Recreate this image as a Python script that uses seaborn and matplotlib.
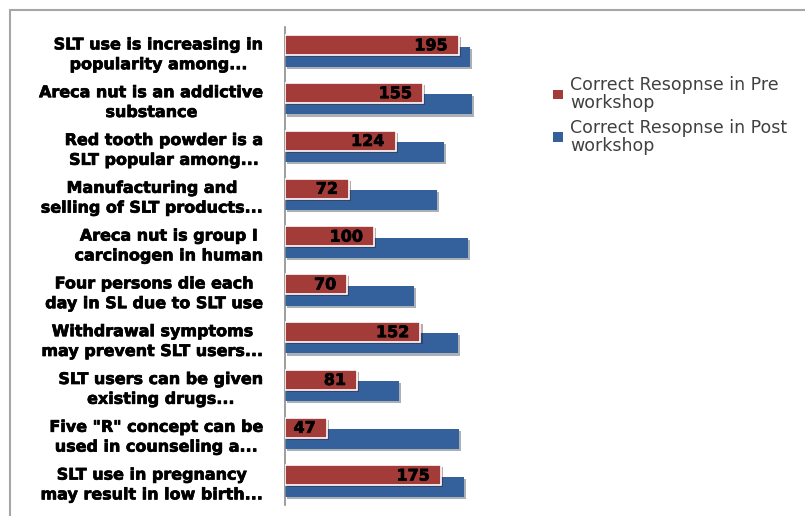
import matplotlib
matplotlib.use("Agg")
import matplotlib.pyplot as plt
import matplotlib.patheffects as pe
from matplotlib.patches import Rectangle, Patch
import seaborn as sns
import pandas as pd

categories = [
    "SLT use is increasing in\npopularity among...",
    "Areca nut is an addictive\nsubstance",
    "Red tooth powder is a\nSLT popular among...",
    "Manufacturing and\nselling of SLT products...",
    "Areca nut is group I\ncarcinogen in human",
    "Four persons die each\nday in SL due to SLT use",
    "Withdrawal symptoms\nmay prevent SLT users...",
    "SLT users can be given\nexisting drugs...",
    "Five \"R\" concept can be\nused in counseling a...",
    "SLT use in pregnancy\nmay result in low birth...",
]
pre = [195, 155, 124, 72, 100, 70, 152, 81, 47, 175]
post = [208, 210, 178, 170, 205, 145, 194, 128, 195, 201]
series = ["Correct Resopnse in Pre\nworkshop", "Correct Resopnse in Post\nworkshop"]
colors = ["#A33B38", "#34609C"]

sns.set_theme(style="white")
plt.rcParams["font.family"] = ["DejaVu Sans"]

df = pd.DataFrame({
    "cat": categories * 2,
    "value": pre + post,
    "series": [series[0]] * len(pre) + [series[1]] * len(post),
})

fig = plt.figure(figsize=(8.05, 5.16), dpi=100)
ax = fig.add_axes([285 / 805, 1 - 505 / 516, 205 / 805, 478 / 516])
sns.barplot(data=df, y="cat", x="value", hue="series", hue_order=series,
            palette=colors, dodge=True, width=0.84, saturation=1,
            legend=False, ax=ax)

shadow = [pe.SimplePatchShadow(offset=(1.5, -1.5), alpha=0.35), pe.Normal()]
pre_c, post_c = ax.containers[0], ax.containers[1]
for p in pre_c:
    p.set_y(p.get_y() + 0.09)
    p.set_zorder(3)
    p.set_edgecolor("white")
    p.set_linewidth(1.2)
    p.set_path_effects(shadow)
for p in post_c:
    p.set_y(p.get_y() - 0.09)
    p.set_zorder(2)
    p.set_edgecolor("none")
    p.set_path_effects(shadow)

thick = [pe.withStroke(linewidth=0.5, foreground="black")]
for p, v in zip(pre_c, pre):
    ax.annotate(str(v), xy=(p.get_x() + p.get_width(), p.get_y() + p.get_height() / 2),
                xytext=(-8, -0.5), textcoords="offset points", ha="right", va="center",
                fontsize=11.5, fontweight="bold", color="black", zorder=5,
                path_effects=thick)

ax.set_xlim(0, 230)
ax.set_ylim(9.5, -0.5)
ax.set_xlabel("")
ax.set_ylabel("")
ax.set_xticks([])
for s in ["top", "right", "bottom"]:
    ax.spines[s].set_visible(False)
ax.spines["left"].set_color("#8C8C8C")
ax.spines["left"].set_linewidth(1.2)
ax.tick_params(axis="y", length=0, pad=15)
for t in ax.get_yticklabels():
    t.set_fontsize(11.5)
    t.set_fontweight("bold")
    t.set_color("black")
    t.set_multialignment("center")
    t.set_linespacing(1.4)
    t.set_path_effects(thick)

fig.add_artist(Rectangle((10 / 805, -0.1), 1.0, 1 - 10 / 516 + 0.1,
                         transform=fig.transFigure, fill=False,
                         edgecolor="#A6A6A6", linewidth=1.5))

handles = [Patch(facecolor=c, edgecolor="none") for c in colors]
leg = fig.legend(handles=handles, labels=series, loc="upper left",
                 bbox_to_anchor=(537 / 805, 1 - 60 / 516), frameon=False,
                 fontsize=12.5, handlelength=0.6, handleheight=0.5,
                 handletextpad=0.4, labelspacing=0.4, labelcolor="#404040")
for t in leg.get_texts():
    t.set_linespacing(1.0)

fig.savefig("out.png", dpi=100, facecolor="white")
